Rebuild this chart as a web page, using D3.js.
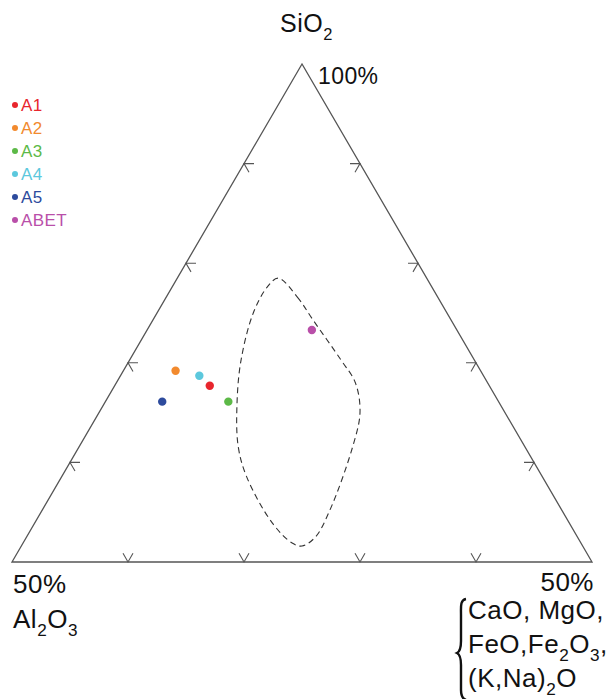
<!DOCTYPE html>
<html>
<head>
<meta charset="utf-8">
<script src="https://cdn.jsdelivr.net/npm/d3@7"></script>
<style>
  html, body { margin: 0; padding: 0; background: #fff; }
  svg { display: block; font-family: "Liberation Sans", Arial, sans-serif; }
</style>
</head>
<body>
<svg id="chart" width="609" height="699"></svg>
<script>
// Samples: composition in wt% (SiO2, Al2O3, CaO+MgO+FeO+Fe2O3+(K,Na)2O)
const sampleNames = ["A1", "A2", "A3", "A4", "A5", "ABET"];
const sampleSiO2  = [67.7, 69.2, 66.1, 68.7, 66.1, 73.3];
const sampleAl2O3 = [24.1, 26.3, 23.3, 24.5, 29.0, 12.5];
const sampleOther = [8.2, 4.5, 10.6, 6.8, 4.9, 14.2];
const sampleColors = ["#e8262d", "#f28a2e", "#5cb947", "#5cc8dd", "#2d4b9d", "#b94fa9"];

// Dashed field boundary (SiO2, Al2O3), remainder = other oxides
const fieldSiO2  = [78.5, 76.6, 74.3, 70.3, 68.0, 65.0, 61.5, 55.2, 52.5, 51.6, 51.9, 53.9, 58.5, 61.6, 66.0, 70.3, 75.0, 77.6];
const fieldAl2O3 = [12.8, 12.1, 11.9, 11.5, 11.4, 12.5, 14.9, 20.0, 22.6, 24.2, 24.9, 25.6, 25.5, 24.7, 22.6, 20.1, 16.7, 14.2];

// Tick positions along each edge (SiO2 for side edges, Al2O3 for the base)
const sideTicks = [60, 70, 80, 90];
const baseTicks = [10, 20, 30, 40];

const svg = d3.select("#chart");

// Triangle geometry: apex = 100% SiO2, base at 50% SiO2
const yScale = d3.scaleLinear().domain([50, 100]).range([562, 64]);
const xScale = d3.scaleLinear().domain([0, 1]).range([12, 592]);

function project(si, al) {
  const other = 100 - si - al;
  const a = (si - 50) / 50;
  const c = other / 50;
  return [xScale(c + a / 2), yScale(si)];
}

const apex = project(100, 0);
const left = project(50, 50);
const right = project(50, 0);

const edgeColor = "#555";

svg.append("path")
  .attr("d", d3.line()([apex, left, right, apex]) + "Z")
  .attr("fill", "none")
  .attr("stroke", edgeColor)
  .attr("stroke-width", 1.3)
  .attr("stroke-linejoin", "miter");

// Tick marks: two short strokes pointing inward along the grid directions
const tLen = 10;
const s60 = Math.sqrt(3) / 2;
const tickGroup = svg.append("g")
  .attr("fill", "none")
  .attr("stroke", edgeColor)
  .attr("stroke-width", 1.1);

function chevron(p, d1, d2) {
  tickGroup.append("path")
    .attr("d", d3.line()([
      [p[0] + d1[0] * tLen, p[1] + d1[1] * tLen],
      p,
      [p[0] + d2[0] * tLen, p[1] + d2[1] * tLen]
    ]));
}

sideTicks.forEach(si => {
  chevron(project(si, 100 - si), [1, 0], [0.5, s60]);   // left edge
  chevron(project(si, 0), [-1, 0], [-0.5, s60]);         // right edge
});
baseTicks.forEach(al => {
  chevron(project(50, al), [-0.5, -s60], [0.5, -s60]);   // base
});

// Field outline
const fieldPts = fieldSiO2.map((si, i) => project(si, fieldAl2O3[i]));
svg.append("path")
  .attr("d", d3.line().curve(d3.curveCatmullRomClosed.alpha(0.5))(fieldPts))
  .attr("fill", "none")
  .attr("stroke", "#333")
  .attr("stroke-width", 1.1)
  .attr("stroke-dasharray", "6,4");

// Sample points
svg.append("g").selectAll("circle")
  .data(sampleNames)
  .join("circle")
  .attr("cx", (d, i) => project(sampleSiO2[i], sampleAl2O3[i])[0])
  .attr("cy", (d, i) => project(sampleSiO2[i], sampleAl2O3[i])[1])
  .attr("r", 4.2)
  .attr("fill", (d, i) => sampleColors[i]);

// Legend
const legend = svg.append("g");
const legY = d3.scaleLinear().domain([0, 5]).range([105, 220]);
sampleNames.forEach((name, i) => {
  legend.append("circle")
    .attr("cx", 15).attr("cy", legY(i)).attr("r", 3)
    .attr("fill", sampleColors[i]);
  legend.append("text")
    .attr("x", 21).attr("y", legY(i) + 6)
    .attr("font-size", 17)
    .attr("letter-spacing", 0.4)
    .attr("fill", sampleColors[i])
    .text(name);
});

// Labels
function chem(x, y, parts, size, anchor) {
  const t = svg.append("text")
    .attr("x", x).attr("y", y)
    .attr("font-size", size)
    .attr("letter-spacing", 0.5)
    .attr("fill", "#111")
    .attr("text-anchor", anchor || "start");
  parts.forEach(p => {
    if (p.sub) {
      t.append("tspan").attr("font-size", size * 0.66).attr("dy", size * 0.32).text(p.sub);
    } else {
      t.append("tspan").attr("dy", p.reset ? -size * 0.32 : 0).text(p.t);
    }
  });
  return t;
}

chem(280, 32, [{t: "SiO"}, {sub: "2"}], 25);
svg.append("text").attr("x", 318).attr("y", 84).attr("font-size", 23)
  .attr("letter-spacing", 0.4).attr("fill", "#111").text("100%");

svg.append("text").attr("x", 13).attr("y", 593).attr("font-size", 26)
  .attr("letter-spacing", 0.5).attr("fill", "#111").text("50%");
chem(13, 628, [{t: "Al"}, {sub: "2"}, {t: "O", reset: true}, {sub: "3"}], 26);

svg.append("text").attr("x", 594).attr("y", 591).attr("font-size", 26)
  .attr("letter-spacing", 0.5)
  .attr("text-anchor", "end").attr("fill", "#111").text("50%");

chem(468, 619, [{t: "CaO, MgO,"}], 26);
chem(468, 653, [{t: "FeO,Fe"}, {sub: "2"}, {t: "O", reset: true}, {sub: "3"}, {t: ",", reset: true}], 26);
chem(468, 687, [{t: "(K,Na)"}, {sub: "2"}, {t: "O", reset: true}], 26);

// Curly brace grouping the oxide list
svg.append("path")
  .attr("d", "M466,599 C460,600 461,607 461,615 L461,641 C461,649 459,652 457,653 C459,654 461,657 461,665 L461,690 C461,697 463,699 466,700")
  .attr("fill", "none")
  .attr("stroke", "#111")
  .attr("stroke-width", 2.4);
</script>
</body>
</html>
